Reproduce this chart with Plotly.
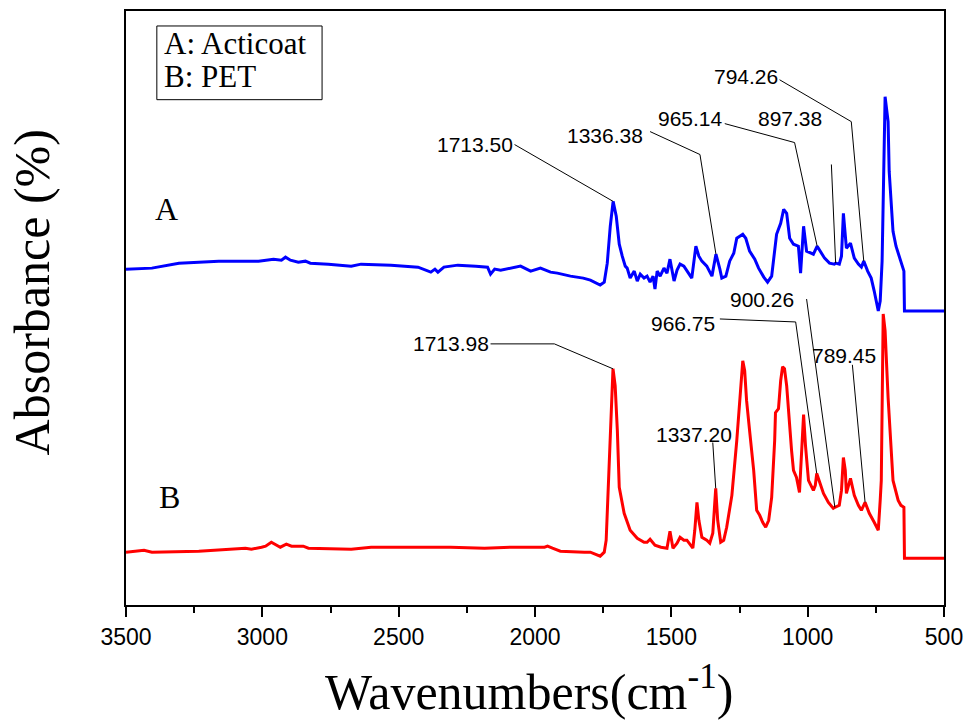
import numpy as np
import plotly.graph_objects as go

# ---------------- FTIR spectra (wavenumber in cm^-1, absorbance in a.u., stacked) ----------------
wn_acticoat = [3500, 3405, 3306, 3160, 3014, 2959, 2930, 2915, 2897, 2868, 2842, 2824, 2758, 2674,
               2638, 2528, 2429, 2382, 2367, 2356, 2334, 2309, 2283, 2217, 2174, 2163, 2148, 2126,
               2082, 2053, 2016, 1980, 1943, 1918, 1870, 1845, 1823, 1797, 1772, 1761, 1746, 1735,
               1724, 1713.50, 1702, 1691, 1680, 1669, 1662, 1651, 1636, 1625, 1614, 1600, 1589,
               1578, 1567, 1560, 1552, 1541, 1527, 1516, 1505, 1498, 1490, 1479, 1468, 1454, 1443,
               1425, 1410, 1399, 1388, 1370, 1351, 1336.38, 1322, 1315, 1300, 1286, 1271, 1260,
               1249, 1238, 1227, 1213, 1194, 1180, 1161, 1147, 1132, 1114, 1099, 1088, 1077, 1066,
               1052, 1034, 1026, 1015, 1004, 990, 979, 965.14, 953, 938, 920, 902, 897.38, 884,
               876, 869, 858, 843, 829, 814, 803, 794.26, 780, 767, 756, 741, 734, 727, 716, 705,
               701, 687, 676, 658, 647, 645, 500]
abs_acticoat = [33.7, 33.8, 34.3, 34.5, 34.5, 34.7, 34.6, 34.9, 34.6, 34.4, 34.5, 34.3, 34.2, 34.0,
                34.2, 34.1, 33.9, 33.4, 33.7, 33.4, 33.9, 34.0, 34.1, 34.0, 33.9, 33.2, 33.7, 33.6,
                33.8, 34.0, 33.5, 33.8, 33.4, 33.3, 33.0, 32.9, 32.8, 32.6, 32.3, 32.1, 32.4, 34.3,
                38.0, 40.5, 39.0, 36.2, 35.0, 34.0, 33.8, 32.8, 33.5, 32.5, 33.2, 32.8, 33.0,
                32.4, 33.0, 31.7, 33.5, 33.0, 33.8, 33.3, 34.7, 33.5, 32.5, 33.6, 34.2, 34.0, 33.5,
                32.8, 36.0, 35.0, 34.5, 34.0, 33.0, 35.2, 33.7, 32.8, 33.0, 34.5, 35.3, 36.8,
                37.0, 37.2, 36.8, 35.5, 34.7, 33.8, 32.9, 32.4, 33.0, 37.2, 38.3, 39.7, 39.3, 36.8,
                36.2, 36.0, 33.3, 38.0, 35.5, 35.3, 35.2, 36.0, 35.5, 34.8, 34.3, 34.2, 34.3, 34.2,
                35.0, 39.3, 35.8, 36.3, 34.8, 34.2, 33.9, 34.5, 33.5, 32.8, 31.5, 29.5, 30.5, 34.5,
                51.0, 48.5, 43.5, 37.5, 36.0, 34.5, 33.5, 29.5, 29.5]

wn_pet = [3500, 3434, 3405, 3233, 3062, 3040, 3003, 2988, 2967, 2948, 2934, 2912, 2893, 2879, 2850,
          2831, 2674, 2601, 2429, 2309, 2185, 2090, 1965, 1954, 1936, 1907, 1819, 1797, 1761, 1746,
          1739, 1728, 1720, 1713.98, 1706, 1698, 1691, 1673, 1651, 1625, 1600, 1589, 1578, 1560,
          1538, 1516, 1505, 1494, 1479, 1468, 1454, 1443, 1421, 1414, 1406, 1399, 1388, 1370, 1359,
          1348, 1337.20, 1330, 1319, 1308, 1297, 1278, 1260, 1249, 1238, 1231, 1224, 1213, 1198,
          1187, 1176, 1165, 1154, 1143, 1132, 1121, 1118, 1107, 1099, 1092, 1085, 1077, 1070, 1059,
          1052, 1041, 1030, 1023, 1015, 1008, 997, 979, 972, 966.75, 953, 942, 924, 906, 900.26,
          884, 876, 869, 862, 858, 843, 829, 814, 803, 789.45, 774, 756, 741, 734, 730, 723, 716,
          705, 694, 687, 668, 658, 647, 645, 500]
abs_pet = [5.3, 5.5, 5.3, 5.4, 5.7, 5.6, 5.8, 5.9, 6.3, 6.0, 5.8, 6.1, 5.9, 5.9, 5.9,
           5.7, 5.6, 5.8, 5.8, 5.8, 5.7, 5.8, 5.8, 5.9, 5.7, 5.4, 5.3, 5.3, 4.9, 5.3,
           6.5, 14.5, 20.5, 23.7, 22.0, 17.5, 11.8, 9.2, 7.5, 6.7, 6.3, 6.3, 6.6, 6.0,
           5.8, 5.7, 7.4, 5.7, 6.2, 6.8, 6.5, 6.5, 5.7, 7.5, 10.3, 8.5, 6.8, 6.5, 6.2,
           7.2, 11.7, 8.5, 6.3, 6.5, 7.8, 11.0, 16.5, 20.5, 24.5, 23.5, 20.5, 17.5, 13.5,
           9.5, 9.0, 8.3, 7.8, 8.5, 10.8, 16.5, 19.3, 19.7, 22.5, 23.9, 23.7, 22.0, 19.2, 15.5,
           13.5, 12.8, 11.3, 15.5, 19.1, 16.0, 12.5, 11.5, 12.0, 13.2, 12.0, 11.2, 10.3, 9.7, 9.8,
           10.0, 11.5, 14.8, 13.5, 11.2, 12.7, 11.0, 10.0, 9.5, 10.3, 9.2, 8.3, 7.5, 10.5, 12.5, 29.2, 27.5,
           20.8, 15.5, 12.5, 10.5, 10.0, 9.8, 4.7, 4.7]

# ---------------- peak labels: text, label anchor (wn, abs), leader-line waypoints ----------------
peaks_acticoat = [
    # text,     label x, label y, xanchor,  leader waypoints before the peak
    ("1713.50", 2075, 46.2, "right", [(2075, 46.2)]),
    ("1336.38", 1596, 47.1, "right", [(1578, 47.5), (1395, 45.2)]),
    ("965.14",  1304, 48.8, "right", [(1304, 48.3), (1048, 46.4)]),
    ("897.38",   939, 48.8, "right", [(913, 44.2)]),
    ("794.26",  1103, 53.0, "right", [(1103, 52.7), (840, 48.5)]),
]
peaks_pet = [
    ("1713.98", 2163, 26.2, "right", [(2163, 26.2), (1929, 26.2)]),
    ("1337.20", 1417, 17.1, "center", [(1348, 16.3)]),
    ("966.75",  1333, 28.2, "right", [(1322, 28.7), (1044, 28.4)]),
    ("900.26",  1041, 30.7, "right", [(1004, 30.7)]),
    ("789.45",   741, 25.0, "right", [(836, 24.1)]),
]

x_ticks = [3500, 3000, 2500, 2000, 1500, 1000, 500]

SERIF = "Times New Roman, Liberation Serif, serif"
SANS = "Arial, Liberation Sans, sans-serif"

fig = go.Figure()

fig.add_trace(go.Scatter(x=wn_acticoat, y=abs_acticoat, mode="lines",
                         line=dict(color="#0000FF", width=3), name="A: Acticoat",
                         showlegend=False))
fig.add_trace(go.Scatter(x=wn_pet, y=abs_pet, mode="lines",
                         line=dict(color="#FF0000", width=3), name="B: PET",
                         showlegend=False))

annotations = []


def add_peak_labels(peaks, wn, ab):
    wn_asc = np.asarray(wn, dtype=float)[::-1]
    ab_asc = np.asarray(ab, dtype=float)[::-1]
    for text, lx, ly, anchor, waypoints in peaks:
        tip_x = float(text)
        tip_y = float(np.interp(tip_x, wn_asc, ab_asc))
        xs = [p[0] for p in waypoints] + [tip_x]
        ys = [p[1] for p in waypoints] + [tip_y]
        fig.add_trace(go.Scatter(x=xs, y=ys, mode="lines",
                                 line=dict(color="black", width=1),
                                 hoverinfo="skip", showlegend=False))
        annotations.append(dict(x=lx, y=ly, xref="x", yref="y", text=text,
                                showarrow=False, xanchor=anchor, yanchor="middle",
                                font=dict(family=SANS, size=21, color="black")))


add_peak_labels(peaks_acticoat, wn_acticoat, abs_acticoat)
add_peak_labels(peaks_pet, wn_pet, abs_pet)

# curve tags
annotations.append(dict(x=0.0499, y=0.666, xref="paper", yref="paper", text="A",
                        showarrow=False, xanchor="center", yanchor="middle",
                        font=dict(family=SERIF, size=32, color="black")))
annotations.append(dict(x=0.0535, y=0.181, xref="paper", yref="paper", text="B",
                        showarrow=False, xanchor="center", yanchor="middle",
                        font=dict(family=SERIF, size=32, color="black")))

# legend box text
annotations.append(dict(x=0.0438, y=0.946, xref="paper", yref="paper", text="A: Acticoat",
                        showarrow=False, xanchor="left", yanchor="middle",
                        font=dict(family=SERIF, size=31, color="black")))
annotations.append(dict(x=0.0438, y=0.889, xref="paper", yref="paper", text="B: PET",
                        showarrow=False, xanchor="left", yanchor="middle",
                        font=dict(family=SERIF, size=31, color="black")))

# axis titles
annotations.append(dict(x=-0.1144, y=0.527, xref="paper", yref="paper", text="Absorbance (%)",
                        showarrow=False, textangle=-90, xanchor="center", yanchor="middle",
                        font=dict(family=SERIF, size=50, color="black")))
annotations.append(dict(x=0.4927, y=-0.140, xref="paper", yref="paper",
                        text="Wavenumbers(cm<sup>-1</sup>)",
                        showarrow=False, xanchor="center", yanchor="middle",
                        font=dict(family=SERIF, size=50, color="black")))

fig.update_layout(
    width=972, height=722,
    margin=dict(l=126, r=24, t=9, b=117),
    paper_bgcolor="white", plot_bgcolor="white",
    annotations=annotations,
    shapes=[dict(type="rect", xref="paper", yref="paper",
                 x0=0.0377, x1=0.2397, y0=0.8507, y1=0.9748,
                 line=dict(color="black", width=1), fillcolor="rgba(0,0,0,0)")],
)

fig.update_xaxes(
    range=[3500, 500], tickvals=x_ticks, ticktext=[str(v) for v in x_ticks],
    ticks="outside", ticklen=10, tickwidth=2, tickcolor="black",
    minor=dict(dtick=250, tick0=500, ticks="outside", ticklen=6, tickwidth=2,
               tickcolor="black", showgrid=False),
    showline=True, linewidth=2, linecolor="black", mirror=True,
    showgrid=False, zeroline=False,
    tickfont=dict(family=SANS, size=23, color="black"),
)
fig.update_yaxes(
    range=[0, 59.6], showticklabels=False, ticks="",
    showline=True, linewidth=2, linecolor="black", mirror=True,
    showgrid=False, zeroline=False,
)

fig.write_html("out.html")
